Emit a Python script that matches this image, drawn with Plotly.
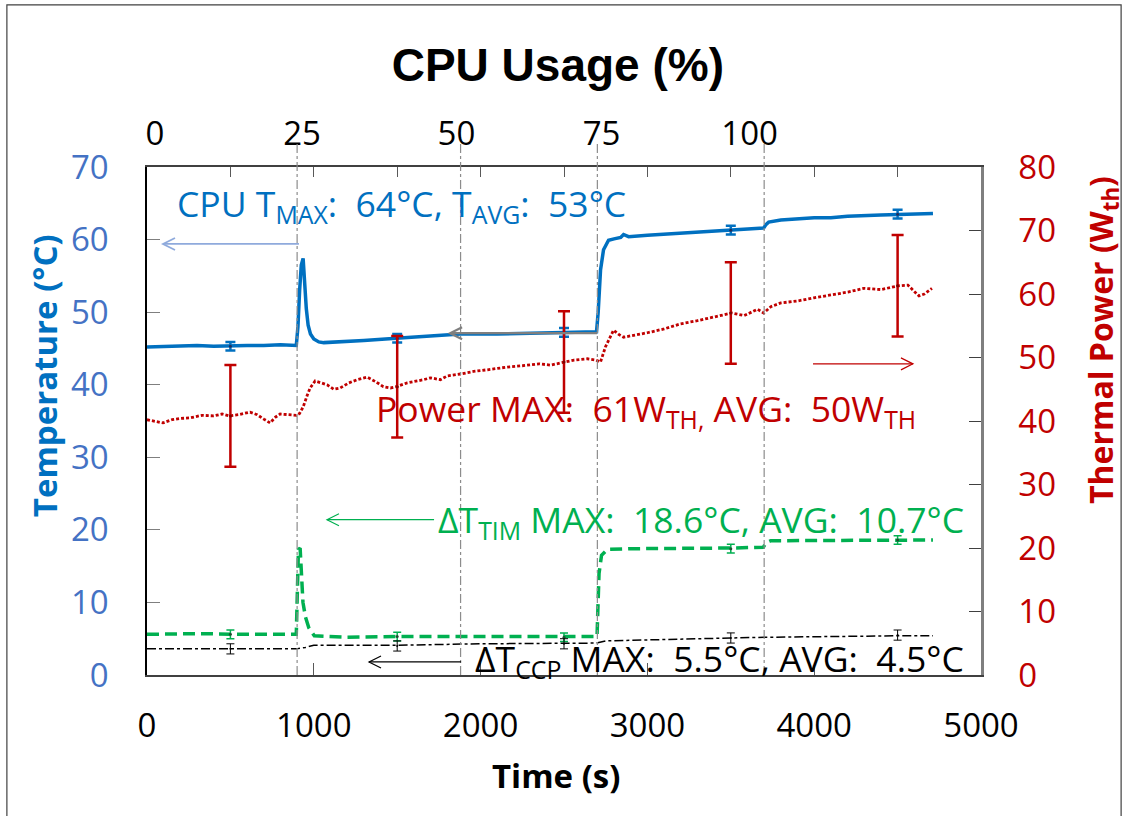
import plotly.graph_objects as go

# ---------------- data ----------------
# CPU temperature (°C), left axis
cpu_t = [0, 100, 200, 300, 400, 500, 600, 700, 800, 895, 905, 915, 925, 936, 945, 955,
         966, 980, 1000, 1030, 1060, 1158, 1300, 1495, 1700, 1879, 2100, 2300, 2500,
         2695, 2705, 2719, 2737, 2767, 2800, 2840, 2857, 2887, 3000, 3200, 3400, 3505,
         3697, 3712, 3727, 3800, 4000, 4100, 4200, 4400, 4508, 4712]
cpu_temp = [45.2, 45.3, 45.3, 45.4, 45.3, 45.4, 45.4, 45.4, 45.5, 45.4, 48.0, 53.0, 56.5,
            57.4, 54.0, 50.5, 48.2, 47.0, 46.3, 45.9, 45.8, 45.9, 46.1, 46.4, 46.7, 47.0,
            47.0, 47.1, 47.2, 47.3, 50.0, 55.8, 58.6, 59.9, 60.1, 60.3, 60.7, 60.4, 60.6,
            60.9, 61.1, 61.3, 61.6, 62.1, 62.4, 62.7, 63.0, 63.0, 63.2, 63.4, 63.5, 63.6]

# Thermal power (W_th), right axis
power_t = [0, 50, 96, 150, 200, 260, 330, 400, 450, 492, 550, 618, 660, 700, 738, 770,
           798, 850, 895, 915, 936, 960, 978, 1008, 1040, 1080, 1120, 1158, 1210, 1260,
           1320, 1370, 1417, 1460, 1495, 1560, 1657, 1700, 1759, 1800, 1880, 1957, 2050,
           2161, 2250, 2350, 2420, 2497, 2560, 2640, 2690, 2719, 2749, 2797, 2830, 2857,
           2920, 3001, 3100, 3199, 3300, 3397, 3505, 3580, 3661, 3697, 3740, 3800, 3900,
           3998, 4100, 4202, 4298, 4400, 4508, 4562, 4600, 4628, 4660, 4706]
power_w = [40.2, 39.9, 39.7, 40.2, 40.4, 40.5, 40.9, 40.8, 41.1, 40.8, 41.0, 41.4, 41.0,
           40.3, 39.7, 40.6, 41.1, 41.0, 40.9, 41.2, 42.2, 44.0, 45.2, 46.3, 46.0, 45.7,
           45.0, 45.2, 46.0, 46.5, 46.9, 46.2, 45.4, 45.2, 45.4, 46.0, 46.5, 46.8, 46.5,
           47.1, 47.4, 47.8, 48.1, 48.5, 48.7, 49.0, 48.8, 49.3, 49.6, 49.8, 49.6, 49.3,
           51.7, 54.3, 53.6, 53.2, 53.5, 53.9, 54.5, 55.3, 55.8, 56.4, 57.0, 56.6, 57.6,
           57.0, 58.0, 58.6, 58.9, 59.4, 59.8, 60.3, 60.9, 60.7, 61.3, 61.4, 60.4, 59.7,
           60.0, 60.9]

# ΔT across the TIM (°C), left axis
tim_t = [0, 300, 600, 895, 902, 908, 918, 925, 935, 950, 970, 1003, 1200, 1500, 2000,
         2500, 2698, 2703, 2710, 2725, 2760, 2900, 3200, 3500, 3695, 3710, 3740, 4000,
         4500, 4712]
tim_dt = [5.6, 5.7, 5.6, 5.6, 12.0, 17.3, 17.5, 14.0, 10.0, 8.0, 6.5, 5.4, 5.2, 5.3, 5.3,
          5.2, 5.3, 9.0, 14.0, 16.5, 17.3, 17.4, 17.4, 17.5, 17.6, 18.2, 18.5, 18.5,
          18.6, 18.6]

# ΔT across the CCP (°C), left axis
ccp_t = [0, 300, 600, 895, 950, 1000, 1200, 1500, 2000, 2500, 2695, 2750, 2900, 3200,
         3500, 3700, 4000, 4500, 4712]
ccp_dt = [3.6, 3.6, 3.6, 3.6, 3.8, 4.1, 4.1, 4.1, 4.3, 4.4, 4.4, 4.7, 4.8, 4.9, 5.1,
          5.2, 5.3, 5.4, 5.4]

# error bars (mean ± sd) at sample times
err_t = [500, 1500, 2500, 3500, 4500]
cpu_mean = [45.3, 46.4, 47.2, 61.3, 63.5]
cpu_sd = [0.6, 0.6, 0.6, 0.6, 0.6]
power_mean = [40.8, 45.4, 49.3, 57.0, 61.3]
power_sd = [8.0, 8.0, 8.0, 8.0, 8.0]
tim_mean = [5.6, 5.3, 5.2, 17.4, 18.6]
tim_sd = [0.6, 0.6, 0.6, 0.6, 0.6]
ccp_mean = [3.6, 4.0, 4.3, 5.1, 5.5]
ccp_sd = [0.7, 0.7, 0.7, 0.7, 0.7]

# CPU usage steps (s) and top-axis labels
usage_steps_t = [900, 1880, 2700, 3700]
usage_label_t = [48, 930, 1855, 2725, 3613]
usage_labels = ["0", "25", "50", "75", "100"]

BLUE = "#0070C0"
RED = "#C00000"
GREEN = "#00B050"
TICK_FONT = "Open Sans"

fig = go.Figure()

fig.add_trace(go.Scatter(x=power_t, y=power_w, yaxis="y2", mode="lines",
                         line=dict(color=RED, width=2.8, dash="3px,2px"), name="Power"))
fig.add_trace(go.Scatter(x=err_t, y=power_mean, yaxis="y2", mode="markers",
                         marker=dict(size=3, color="#7f0000"),
                         error_y=dict(type="data", array=power_sd, color=RED,
                                      thickness=2.5, width=6)))
fig.add_trace(go.Scatter(x=cpu_t, y=cpu_temp, mode="lines",
                         line=dict(color=BLUE, width=3.5), name="CPU"))
fig.add_trace(go.Scatter(x=err_t, y=cpu_mean, mode="markers",
                         marker=dict(size=3, color="#1f2f5f"),
                         error_y=dict(type="data", array=cpu_sd, color=BLUE,
                                      thickness=2.5, width=5)))
fig.add_trace(go.Scatter(x=tim_t, y=tim_dt, mode="lines",
                         line=dict(color=GREEN, width=3.5, dash="12px,6px"), name="TIM"))
fig.add_trace(go.Scatter(x=err_t, y=tim_mean, mode="markers",
                         marker=dict(size=3, color="#1f4f2f"),
                         error_y=dict(type="data", array=tim_sd, color=GREEN,
                                      thickness=1.5, width=4)))
fig.add_trace(go.Scatter(x=ccp_t, y=ccp_dt, mode="lines",
                         line=dict(color="black", width=1.5, dash="dashdot"), name="CCP"))
fig.add_trace(go.Scatter(x=err_t, y=ccp_mean, mode="markers",
                         marker=dict(size=2, color="black"),
                         error_y=dict(type="data", array=ccp_sd, color="black",
                                      thickness=1, width=4)))
# placeholders so the top axes are laid out
fig.add_trace(go.Scatter(x=[0], y=[0], xaxis="x2", mode="markers",
                         marker=dict(opacity=0), hoverinfo="skip"))
fig.add_trace(go.Scatter(x=[0], y=[0], xaxis="x3", mode="markers",
                         marker=dict(opacity=0), hoverinfo="skip"))

shapes = []
# CPU-usage step markers
for t in usage_steps_t:
    shapes.append(dict(type="line", xref="x", yref="paper", x0=t, x1=t, y0=0, y1=1.047,
                       line=dict(color="#8c8c8c", width=1.2, dash="dashdot")))


def arrow(x0, x1, y, yref, color, width):
    """Horizontal arrow from x0 to x1 with an open chevron at x1."""
    out = [dict(type="line", xref="x", yref=yref, x0=x0, x1=x1, y0=y, y1=y,
                line=dict(color=color, width=width))]
    d = 12 if x1 < x0 else -12
    out.append(dict(type="path", xref="x", yref=yref, xsizemode="pixel",
                    ysizemode="pixel", xanchor=x1, yanchor=y,
                    path=f"M {d},-6 L 0,0 L {d},6",
                    line=dict(color=color, width=width)))
    return out


shapes += arrow(911, 96, 59.4, "y", "#8FAADC", 1.8)
shapes += arrow(2698, 1817, 47.1, "y", "#7f7f7f", 2.2)
shapes += arrow(3993, 4592, 49.0, "y2", RED, 1.2)
shapes += arrow(1721, 1079, 21.4, "y", GREEN, 1.2)
shapes += arrow(1883, 1331, 1.8, "y", "black", 1.2)

# outer frame
shapes.append(dict(type="rect", xref="paper", yref="paper", x0=-0.168, x1=1.168,
                   y0=-0.35, y1=1.319, line=dict(color="#404040", width=1.2)))

NB = "\u00a0"
ann_font = dict(family=TICK_FONT, size=35.5)
annotations = [
    dict(text=f"CPU T<sub>MAX</sub>:{NB}{NB}64°C, T<sub>AVG</sub>:{NB}{NB}53°C",
         xref="paper", yref="paper", x=0.0336, y=0.925, xanchor="left", yanchor="middle",
         showarrow=False, font=dict(ann_font, color=BLUE)),
    dict(text=f"Power MAX:{NB}{NB}61W<sub>TH,</sub>{NB}AVG:{NB}{NB}50W<sub>TH</sub>",
         xref="paper", yref="paper", x=0.272, y=0.522, xanchor="left", yanchor="middle",
         showarrow=False, font=dict(ann_font, color=RED)),
    dict(text=f"ΔT<sub>TIM</sub>{NB}MAX:{NB}{NB}18.6°C, AVG:{NB}{NB}10.7°C",
         xref="paper", yref="paper", x=0.3465, y=0.303, xanchor="left", yanchor="middle",
         showarrow=False, font=dict(ann_font, color=GREEN)),
    dict(text=f"ΔT<sub>CCP</sub>{NB}MAX:{NB}{NB}5.5°C, AVG:{NB}{NB}4.5°C",
         xref="paper", yref="paper", x=0.391, y=0.0295, xanchor="left", yanchor="middle",
         showarrow=False, font=dict(ann_font, color="black")),
    # axis titles
    dict(text="Temperature (°C)", xref="paper", yref="paper", x=-0.123, y=0.589,
         xanchor="center", yanchor="middle", textangle=-90, showarrow=False,
         font=dict(family=TICK_FONT, size=33, color=BLUE, weight="bold")),
    dict(text="Thermal Power (W<sub>th</sub>)", xref="paper", yref="paper", x=1.146,
         y=0.659, xanchor="center", yanchor="middle", textangle=-90, showarrow=False,
         font=dict(family=TICK_FONT, size=32, color=RED, weight="bold")),
    dict(text="Time (s)", xref="paper", yref="paper", x=0.49, y=-0.197,
         xanchor="center", yanchor="middle", showarrow=False,
         font=dict(family=TICK_FONT, size=33, color="black", weight="bold")),
]

fig.update_layout(
    width=1127, height=816,
    margin=dict(l=147, r=146, t=167, b=141),
    paper_bgcolor="white", plot_bgcolor="white",
    showlegend=False,
    title=dict(text="CPU Usage (%)", x=0.495, y=0.92, xanchor="center", yanchor="middle",
               font=dict(family="Liberation Sans", size=46, color="black", weight="bold")),
    xaxis=dict(range=[0, 5000], dtick=1000, tick0=0, ticks="inside", ticklen=12,
               tickcolor="#595959", showline=True, linecolor="#404040", linewidth=1.5,
               showgrid=False, zeroline=False, ticklabelstandoff=21,
               tickfont=dict(family=TICK_FONT, size=33, color="black")),
    xaxis2=dict(range=[0, 5000], overlaying="x", side="top", tickmode="array",
                tickvals=usage_label_t, ticktext=usage_labels, ticks="", showline=False,
                showgrid=False, zeroline=False, ticklabelstandoff=14,
                tickfont=dict(family=TICK_FONT, size=33, color="black")),
    xaxis3=dict(range=[0, 5000], overlaying="x", side="top", dtick=500, tick0=0,
                ticks="inside", ticklen=10, tickcolor="#595959", showticklabels=False,
                showline=True, linecolor="#404040", linewidth=1.5, showgrid=False,
                zeroline=False),
    yaxis=dict(range=[0, 70], dtick=10, ticks="inside", ticklen=13, tickcolor="#7f7f7f",
               showline=True, linecolor="black", linewidth=1.5, showgrid=False,
               zeroline=False, ticklabelstandoff=30,
               tickfont=dict(family=TICK_FONT, size=33, color="#4472C4")),
    yaxis2=dict(range=[0, 80], dtick=10, overlaying="y", side="right", ticks="inside",
                ticklen=12, tickcolor="#404040", showline=True, linecolor="#7f7f7f",
                linewidth=2.5, showgrid=False, zeroline=False, ticklabelstandoff=28,
                tickfont=dict(family=TICK_FONT, size=33, color=RED)),
    shapes=shapes,
    annotations=annotations,
)

fig.write_html("out.html")
